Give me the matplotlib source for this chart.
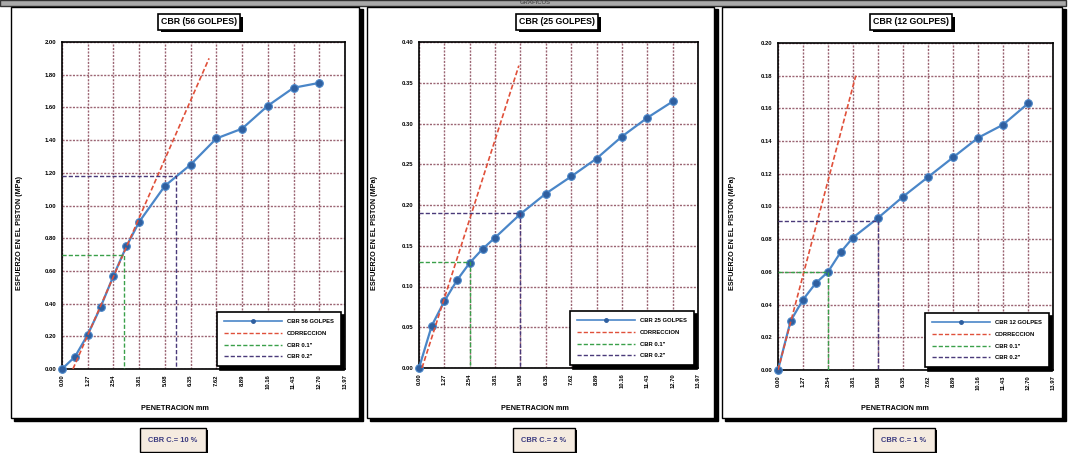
import numpy as np
import matplotlib
matplotlib.use('Agg')
import matplotlib.pyplot as plt
import matplotlib.patheffects as pe
from matplotlib.patches import Rectangle
from matplotlib.lines import Line2D

plt.rcParams['font.family'] = ['Liberation Sans', 'DejaVu Sans']
plt.rcParams['font.weight'] = 'bold'

W, H = 1070, 453

# ── Data ──
pen = [0.00, 0.64, 1.27, 1.91, 2.54, 3.18, 3.81, 5.08, 6.35, 7.62, 8.89, 10.16, 11.43, 12.70]
xticks = [0.00, 1.27, 2.54, 3.81, 5.08, 6.35, 7.62, 8.89, 10.16, 11.43, 12.70, 13.97]

titles = ['CBR (56 GOLPES)', 'CBR (25 GOLPES)', 'CBR (12 GOLPES)']
series_names = ['CBR 56 GOLPES', 'CBR 25 GOLPES', 'CBR 12 GOLPES']
results = ['CBR C.= 10 %', 'CBR C.= 2 %', 'CBR C.= 1 %']

stress_56 = [0.00, 0.075, 0.21, 0.38, 0.57, 0.75, 0.90, 1.12, 1.25, 1.41, 1.47, 1.61, 1.72, 1.75]
stress_25 = [0.00, 0.052, 0.082, 0.108, 0.129, 0.146, 0.160, 0.189, 0.214, 0.235, 0.257, 0.284, 0.307, 0.327]
stress_12 = [0.00, 0.030, 0.043, 0.053, 0.060, 0.072, 0.081, 0.093, 0.106, 0.118, 0.130, 0.142, 0.150, 0.163]

corr_x = [[0.54, 7.26], [0.15, 5.00], [0.00, 3.95]]
corr_y = [[0.00, 1.90], [0.00, 0.371], [0.00, 0.180]]

cbr01_x = [3.08, 2.54, 2.54]
cbr01_y = [0.70, 0.13, 0.06]
cbr02_x = [5.62, 5.08, 5.08]
cbr02_y = [1.18, 0.19, 0.091]

ymax = [2.00, 0.40, 0.20]
ystep = [0.20, 0.05, 0.02]

stresses = [stress_56, stress_25, stress_12]

# ── Layout (pixels) ──
axes_px = [(62, 345, 42, 369), (419, 698, 42, 368), (778, 1053, 43, 370)]
frames_px = [(11, 359), (367, 714), (722, 1062)]
title_cx = [199, 557, 911]
xlabel_cx = [175, 535, 895]
ylabel_x = [20, 375, 732]
result_cx = [173, 544, 904]

C_LINE = '#4a86c8'
C_MARK = '#2f5f9f'
C_CORR = '#e0503a'
C_01 = '#3aa04a'
C_02 = '#4a3a7a'
C_GRID = '#8a4a5a'

box_shadow = [pe.SimplePatchShadow(offset=(2, -2), shadow_rgbFace='black', alpha=1),
              pe.Normal()]


def fx(x):
    return x / W


def fy(y):
    return 1 - y / H


fig = plt.figure(figsize=(W / 100, H / 100), dpi=100)
fig.patch.set_facecolor('white')

# header bar
fig.add_artist(Rectangle((0, fy(6)), fx(1066), 6 / H, transform=fig.transFigure,
                         facecolor='#a9a9a9', edgecolor='#333333', lw=1, zorder=-2))
fig.text(0.5, fy(3), 'GRAFICOS', ha='center', va='center', fontsize=4.2,
         color='#555555', zorder=-1)

for i in range(3):
    l, r = frames_px[i]
    # frame shadow + frame
    fig.add_artist(Rectangle((fx(l + 3), fy(421)), fx(r - l + 1), (421 - 9) / H,
                             transform=fig.transFigure, facecolor='black',
                             edgecolor='black', zorder=-2))
    fig.add_artist(Rectangle((fx(l), fy(418)), fx(r - l), (418 - 7) / H,
                             transform=fig.transFigure, facecolor='white',
                             edgecolor='black', lw=1, zorder=-1))

    al, ar, at, ab = axes_px[i]
    ax = fig.add_axes([fx(al), fy(ab), fx(ar - al), (ab - at) / H])
    ax.set_xlim(0, 13.97)
    ax.set_ylim(0, ymax[i])
    ax.set_xticks(xticks)
    ax.set_xticklabels([f'{v:.2f}' for v in xticks], rotation=90, fontsize=4.2)
    yt = np.round(np.arange(0, ymax[i] + ystep[i] / 2, ystep[i]), 2)
    ax.set_yticks(yt)
    ax.set_yticklabels([f'{v:.2f}' for v in yt], fontsize=4.2)
    ax.tick_params(length=0, pad=4)
    ax.grid(True, color=C_GRID, lw=1.0, linestyle=(0, (1.5, 1)), alpha=0.85)
    ax.set_axisbelow(True)
    for s in ax.spines.values():
        s.set_linewidth(1.2)

    ax.plot(pen, stresses[i], color=C_LINE, lw=1.6, marker='o', markersize=5.5,
            markerfacecolor=C_MARK, markeredgecolor=C_LINE, markeredgewidth=0.8,
            zorder=3, clip_on=False)
    ax.plot(corr_x[i], corr_y[i], color=C_CORR, lw=1.2, linestyle=(0, (3, 1.5)), zorder=4)
    ax.plot([0, cbr01_x[i], cbr01_x[i]], [cbr01_y[i], cbr01_y[i], 0], color=C_01,
            lw=1.0, linestyle=(0, (3, 1.5)), zorder=4)
    ax.plot([0, cbr02_x[i], cbr02_x[i]], [cbr02_y[i], cbr02_y[i], 0], color=C_02,
            lw=1.0, linestyle=(0, (3, 1.5)), zorder=4)

    handles = [
        Line2D([], [], color=C_LINE, lw=1.2, marker='o', markersize=2.5,
               markerfacecolor=C_MARK, markeredgecolor=C_MARK),
        Line2D([], [], color=C_CORR, lw=1.0, linestyle=(0, (3, 1.5))),
        Line2D([], [], color=C_01, lw=1.0, linestyle=(0, (3, 1.5))),
        Line2D([], [], color=C_02, lw=1.0, linestyle=(0, (3, 1.5))),
    ]
    labels = [series_names[i], 'CORRECCION', 'CBR 0.1"', 'CBR 0.2"']
    leg = ax.legend(handles, labels, loc='lower right', bbox_to_anchor=(0.985, 0.008),
                    fontsize=4.2, handlelength=10, handletextpad=0.8,
                    labelspacing=1.15, borderpad=1.2, borderaxespad=0,
                    fancybox=False, framealpha=1, edgecolor='black',
                    shadow=dict(color='black', alpha=1, ox=2.5, oy=-2.5))
    leg.get_frame().set_linewidth(1.2)
    leg.set_zorder(6)

    # title box with shadow
    t = fig.text(fx(title_cx[i]), fy(22), titles[i], ha='center', va='center',
                 fontsize=6.3, color='black',
                 bbox=dict(boxstyle='square,pad=0.35', fc='white', ec='black', lw=1.2))
    t.get_bbox_patch().set_path_effects(box_shadow)

    fig.text(fx(xlabel_cx[i]), fy(408), 'PENETRACION mm', ha='center', va='center',
             fontsize=5.2)
    fig.text(fx(ylabel_x[i]), fy(233), 'ESFUERZO EN EL PISTON (MPa)', ha='center',
             va='center', rotation=90, fontsize=5.2)

    # result box
    rt = fig.text(fx(result_cx[i]), fy(440), results[i], ha='center', va='center',
                  fontsize=5.4, color='#3a3a80',
                  bbox=dict(boxstyle='square,pad=1.1', fc='#f5ebe0', ec='black', lw=1.0))
    rt.get_bbox_patch().set_path_effects(
        [pe.SimplePatchShadow(offset=(1.2, -1.2), shadow_rgbFace='black', alpha=1),
         pe.Normal()])

fig.savefig('out.png', dpi=100)
